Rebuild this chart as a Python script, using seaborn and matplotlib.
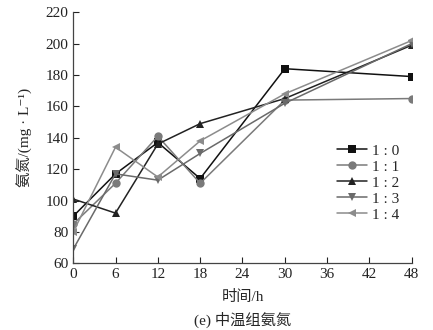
import matplotlib
matplotlib.use("Agg")
import matplotlib.pyplot as plt
import seaborn as sns
import pandas as pd

hours = [0, 6, 12, 18, 30, 48]
s10 = [90, 117, 137, 114, 184, 179]
s11 = [85, 111, 141, 111, 164, 165]
s12 = [101, 92, 136, 149, 165, 199]
s13 = [69, 117, 113, 130, 162, 200]
s14 = [80, 134, 115, 138, 168, 202]
labels = ["1 : 0", "1 : 1", "1 : 2", "1 : 3", "1 : 4"]
series = [s10, s11, s12, s13, s14]

colors = ["#111111", "#7a7a7a", "#222222", "#6a6a6a", "#8c8c8c"]
markers = ["s", "o", "^", "v", "<"]

rows = []
for lab, vals in zip(labels, series):
    for h, v in zip(hours, vals):
        rows.append({"t": h, "v": v, "g": lab})
df = pd.DataFrame(rows)

sns.set_style("ticks")
fam = ["Liberation Serif", "Noto Sans CJK SC", "DejaVu Sans"]
plt.rcParams["font.family"] = fam

fig = plt.figure(figsize=(4.33, 3.30), dpi=100)
ax = fig.add_axes([0.169, 0.202, 0.782, 0.761])

sns.lineplot(data=df, x="t", y="v", hue="g", style="g",
             palette=dict(zip(labels, colors)),
             markers=dict(zip(labels, markers)), dashes=False,
             linewidth=1.1, markersize=6, markeredgewidth=0,
             ax=ax, legend=True)

ax.set_xlim(0, 48)
ax.set_ylim(60, 220)
ax.set_xticks(range(0, 49, 6))
ax.set_yticks(range(60, 221, 20))
ax.tick_params(direction="in", length=4, width=0.8, labelsize=11, colors="#222222")
for s in ["top", "right"]:
    ax.spines[s].set_visible(False)
for s in ["left", "bottom"]:
    ax.spines[s].set_color("#444444")
    ax.spines[s].set_linewidth(0.9)

ax.set_xlabel("时间/h", fontsize=11, labelpad=6, family=fam)
ax.set_ylabel("氨氮/(mg · L⁻¹)", fontsize=11, labelpad=9, family=fam)

leg = ax.legend(loc="upper left", bbox_to_anchor=(0.76, 0.50), frameon=False,
                fontsize=11, handlelength=2.0, handletextpad=0.3,
                labelspacing=0.15, borderaxespad=0)

fig.text(0.56, 0.03, "(e) 中温组氨氮", ha="center", va="center", fontsize=11,
         family=fam)

fig.savefig("out.png", dpi=100)
